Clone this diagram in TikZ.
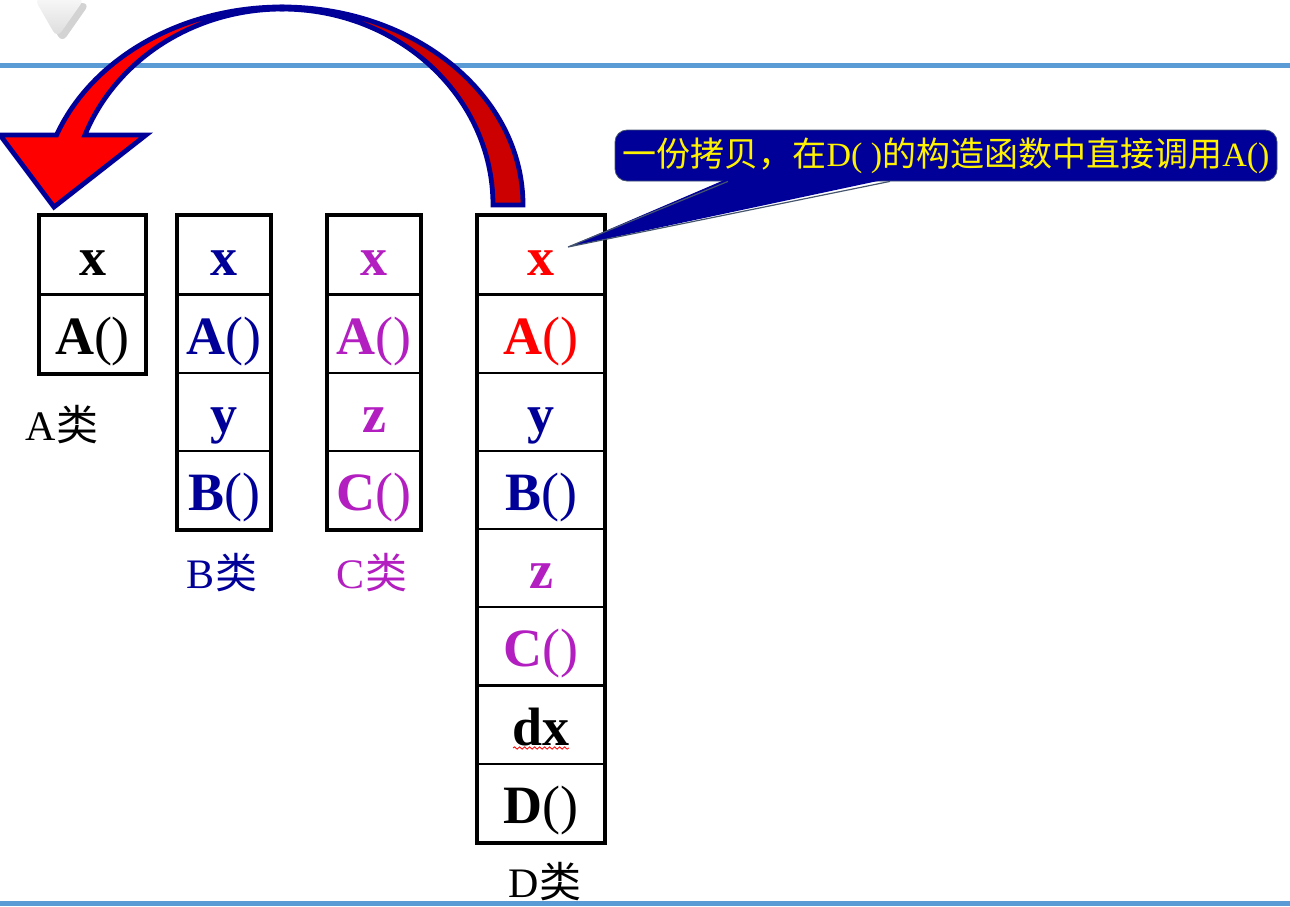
\documentclass[tikz,border=0pt]{standalone}
\usepackage{fontspec}
\setmainfont{Liberation Serif}
\newfontfamily\cjk{Noto Sans CJK SC}
\usetikzlibrary{shadows}
\usetikzlibrary{positioning}
\usetikzlibrary{decorations.pathmorphing}
\definecolor{navy}{RGB}{0,0,153}
\definecolor{purp}{RGB}{178,30,192}
\definecolor{barblue}{RGB}{91,155,213}
\definecolor{darkred}{RGB}{204,0,0}
\definecolor{edgegray}{RGB}{70,85,110}
\newcommand{\pp}{{\mdseries()}}
\tikzstyle{cell}=[draw=black,line width=1pt,inner sep=0pt,minimum height=39pt,text height=20pt,text depth=0pt,font=\fontsize{27}{30}\selectfont\bfseries]
\tikzstyle{frame}=[draw=black,line width=2pt]
\tikzstyle{classname}=[font=\fontsize{21}{24}\selectfont]
\tikzstyle{bar}=[barblue,line width=2.5pt]
\tikzstyle{bentarrow}=[draw=navy,line width=2.4pt,line join=miter]

\begin{document}
\begin{tikzpicture}[x=0.5pt, y=0.5pt]
    \useasboundingbox (0,0) rectangle (1290,-906);

    % Blue rules and the small tab
    \draw[bar] (0,-65) -- (1290,-65);
    \draw[bar] (0,-903) -- (1290,-903);
    \shade[top color=gray!6, bottom color=gray!28, rounded corners=4pt,
           drop shadow={shadow xshift=2.5pt, shadow yshift=-2.5pt, opacity=0.35}] (34,2) -- (85,2) -- (57,-38) -- cycle;

    % Bent arrow from D back to A
    \path[bentarrow, fill=darkred] (523,-205) arc[start angle=0, end angle=90, x radius=241, y radius=198]
        -- (282,-9) arc[start angle=90, end angle=0, x radius=211, y radius=196] -- cycle;
    \path[bentarrow, fill=red] (56.6,-135) arc[start angle=159.3, end angle=90, x radius=241, y radius=198]
        -- (282,-9) arc[start angle=90, end angle=159.1, x radius=211, y radius=196]
        -- (146,-135) -- (54,-207) -- (0,-135) -- cycle;

    % Then the classes, one cell per member
    \foreach \y/\name/\label/\col in {255/A1/x/black, 334/A2/A\pp/black}
        \node[cell, minimum width=52.5pt, text=\col] (\name) at (92.5,-\y) {\label};
    \foreach \y/\name/\label/\col in {255/B1/x/navy, 334/B2/A\pp/navy, 412/B3/y/navy, 490/B4/B\pp/navy}
        \node[cell, minimum width=46pt, text=\col] (\name) at (224,-\y) {\label};
    \foreach \y/\name/\label/\col in {255/C1/x/purp, 334/C2/A\pp/purp, 412/C3/z/purp, 490/C4/C\pp/purp}
        \node[cell, minimum width=46pt, text=\col] (\name) at (374,-\y) {\label};
    \foreach \y/\name/\label/\col in {255/D1/x/red, 334/D2/A\pp/red, 412/D3/y/navy, 490/D4/B\pp/navy,
                                      568/D5/z/purp, 646/D6/C\pp/purp, 725/D7/dx/black, 803/D8/D\pp/black}
        \node[cell, minimum width=63pt, text=\col] (\name) at (541,-\y) {\label};

    \draw[frame] (A1.north west) rectangle (A2.south east);
    \draw[frame] (B1.north west) rectangle (B4.south east);
    \draw[frame] (C1.north west) rectangle (C4.south east);
    \draw[frame] (D1.north west) rectangle (D8.south east);
    \draw[red, line width=0.4pt, decorate, decoration={snake, amplitude=0.6pt, segment length=2.5pt}]
        ([xshift=-14pt, yshift=-11.5pt]D7.center) -- ([xshift=14pt, yshift=-11.5pt]D7.center);

    \node[classname] (Aname) at (62,-425) {A{\cjk 类}};
    \node[classname, text=navy] (Bname) at (222,-573) {B{\cjk 类}};
    \node[classname, text=purp] (Cname) at (372,-573) {C{\cjk 类}};
    \node[classname] (Dname) at (545,-882) {D{\cjk 类}};

    % Callout pointing at D's x
    \node[fill=navy, draw=edgegray, rounded corners=6pt, minimum width=331pt, minimum height=25.5pt, inner sep=0pt,
          text=yellow, font=\fontsize{17}{20}\selectfont] (note) at (946,-155.5)
          {{\cjk 一份拷贝，在}D( ){\cjk 的构造函数中直接调用}A()};
    \coordinate (tip) at (568,-247);
    \fill[navy] ([xshift=-109pt, yshift=1.5pt]note.south) -- (tip) -- ([xshift=-28pt, yshift=1.5pt]note.south) -- cycle;
    \draw[edgegray, line width=0.6pt] ([xshift=-109pt]note.south) -- (tip) -- ([xshift=-28pt]note.south);

\end{tikzpicture}
\end{document}
